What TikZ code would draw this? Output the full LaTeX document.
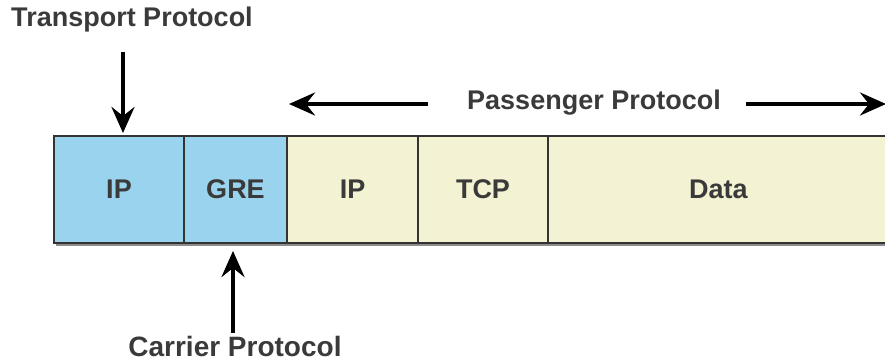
\documentclass[tikz,border=0pt]{standalone}
\usepackage{fontspec}
\setmainfont{Liberation Sans}
\usetikzlibrary{arrows.meta}
\definecolor{cblue}{HTML}{9AD3EE}
\definecolor{cyel}{HTML}{F3F3D3}
\definecolor{ctxt}{HTML}{3A3A3A}
\begin{document}
\begin{tikzpicture}[x=1pt,y=1pt,
  cell/.style={draw=black!80,line width=1.2pt,minimum height=107pt,inner sep=0pt,outer sep=0pt,anchor=north west,font=\bfseries\fontsize{27}{30}\selectfont,text=ctxt},
  lbl/.style={font=\bfseries\fontsize{27}{30}\selectfont,text=ctxt,inner sep=0pt,anchor=base},
  bigarrow/.style={line width=4pt,-{Stealth[length=26pt,width=23pt,inset=9pt]}}]
\useasboundingbox (0,0) rectangle (885,362);
\clip (0,0) rectangle (885,362);
% shadow
\fill[black!45] (56,362-246) rectangle (895,362-240);
\node[cell,fill=cblue,minimum width=130pt] (ip1) at (54,362-136) {IP};
\node[cell,fill=cblue,minimum width=103pt] (gre) at (184,362-136) {GRE};
\node[cell,fill=cyel,minimum width=131pt] (ip2) at (287,362-136) {IP};
\node[cell,fill=cyel,minimum width=130pt] (tcp) at (418,362-136) {TCP};
\node[cell,fill=cyel,minimum width=342pt,text width=334pt,align=left] (data) at (548,362-136) {\hspace*{137pt}Data};
\node[lbl] (tp) at (132,362-27) {Transport Protocol};
\node[lbl] (pp) at (594,362-110) {Passenger Protocol};
\node[lbl,font=\bfseries\fontsize{28}{30}\selectfont] (cp) at (235,362-356) {Carrier Protocol};
\coordinate (tpa) at (123,362-52);
\coordinate (tpb) at (123,362-133);
\coordinate (cpa) at (233,362-333);
\coordinate (cpb) at (233,362-251);
\coordinate (ppla) at (428,362-104);
\coordinate (ppl) at (289,362-104);
\coordinate (ppra) at (746,362-104);
\coordinate (ppr) at (886,362-104);
\draw[bigarrow] (tpa) -- (tpb);
\draw[bigarrow] (cpa) -- (cpb);
\draw[bigarrow] (ppla) -- (ppl);
\draw[bigarrow] (ppra) -- (ppr);
\end{tikzpicture}
\end{document}
